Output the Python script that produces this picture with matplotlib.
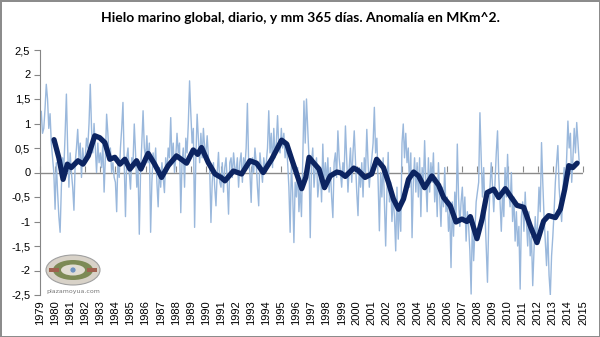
import numpy as np
import matplotlib.pyplot as plt
from matplotlib.patches import Ellipse, Rectangle

# daily anomaly (read roughly monthly off the picture), one list per year
years = list(range(1979, 2015))
daily = [
    [1.0, 1.25, 0.8, 0.9, 1.3, 1.8, 1.5, 0.9, 1.2, 0.6, 0.3, 0.0],
    [-0.75, 0.2, -0.4, -0.9, -1.22, -0.3, 0.3, 0.1, 0.8, 1.6, 0.5, -0.3],
    [0.4, 0.0, -0.3, -0.77, 0.2, 0.5, 0.88, 0.3, 0.6, -0.1, 0.5, 0.2],
    [0.3, 0.7, 0.5, 1.0, 1.8, 0.9, 0.4, 1.0, 0.5, 0.0, 0.6, 0.2],
    [0.4, 0.1, 0.6, -0.4, 0.3, 1.19, 0.8, 0.3, 0.5, 0.0, 0.2, -0.1],
    [-0.2, -0.8, 0.3, -0.1, 0.5, 0.9, 1.43, 0.2, -0.9, 0.3, 0.5, 0.0],
    [-0.34, 0.3, 0.2, 0.99, 0.4, -0.3, 0.1, -1.26, 0.0, 0.6, 1.26, 0.5],
    [0.3, 0.75, 0.2, 0.6, -1.22, -0.2, 0.4, 0.1, 0.5, -0.2, -0.7, 0.1],
    [-0.3, 0.2, -0.1, -0.41, 0.3, 0.0, 0.5, 0.3, 1.12, 0.2, 0.6, 0.0],
    [0.3, 0.8, 0.4, 0.6, -0.82, 0.2, 0.5, -0.3, 0.7, 0.4, 1.0, 1.87],
    [1.2, 0.6, 0.9, -1.12, 0.3, 1.19, 0.7, 0.2, 0.8, 0.3, 0.9, 0.5],
    [0.4, 0.75, 0.3, 0.1, -1.02, -0.2, 0.2, -0.3, -0.68, 0.0, 0.41, -0.2],
    [-0.3, 0.2, -0.4, 0.1, 0.3, -0.2, -0.85, 0.2, 0.3, -0.1, 0.4, 0.1],
    [0.0, 0.3, -0.3, 0.2, 0.4, -0.2, 0.3, 0.1, 0.5, 1.41, 0.2, 0.0],
    [-0.61, 0.3, 0.0, 0.5, 0.2, -0.3, -0.68, 0.4, 0.1, -0.2, 0.3, 0.1],
    [0.2, 0.5, 1.26, 0.4, 0.8, 0.1, 0.9, 0.3, 0.6, 1.16, 0.5, 0.4],
    [0.9, 0.5, 0.8, 0.3, 0.6, 0.2, -0.3, -1.22, 0.2, -0.4, -1.43, -0.2],
    [-0.5, 0.1, -0.8, -0.3, -0.9, 0.2, 1.46, 0.6, 1.5, 0.9, 0.3, -1.33],
    [0.2, 0.5, -0.3, 0.1, 0.3, -0.5, -0.2, 0.1, -0.6, 0.58, -0.3, 0.2],
    [-0.2, 0.3, -0.4, 0.1, -0.5, -0.92, 0.2, 0.4, -0.1, 0.85, 0.3, 0.0],
    [-0.3, 0.2, 0.0, 0.95, 0.3, -0.4, 0.1, 0.5, -0.2, 0.4, 0.85, 0.2],
    [-0.4, -0.88, 0.1, -0.3, 0.2, -0.5, 0.3, 0.0, 0.88, 0.2, -0.3, 0.1],
    [0.3, 0.6, 1.33, 0.4, 0.7, -0.2, -1.19, 0.0, -0.5, 0.3, -0.6, -1.5],
    [-0.4, 0.41, -0.6, -0.2, -1.0, -0.5, -0.9, -1.6, -0.3, -1.36, -0.6, -1.2],
    [0.6, 0.99, 0.3, 0.8, 0.2, 0.5, -0.3, 0.4, -1.33, -0.2, 0.3, -0.4],
    [0.2, -0.5, 0.3, -0.9, 0.1, -0.3, 0.65, -0.2, -0.8, 0.3, -0.4, 0.2],
    [-0.2, 0.4, -0.6, -0.1, -0.9, 0.2, -0.5, -1.1, -0.3, -0.7, 0.1, -0.8],
    [-0.5, -1.2, -0.8, -1.94, -0.6, -1.3, -0.4, -0.9, 0.58, -0.5, -1.1, -0.6],
    [-0.3, -1.0, -0.5, -1.4, -0.8, -1.1, -1.6, -2.48, -0.9, -1.8, -1.2, -0.6],
    [-0.4, -0.2, 1.22, 0.3, -0.5, 0.1, -0.8, -1.5, -2.24, -1.0, -0.3, 0.2],
    [-0.3, -0.8, -0.2, 0.4, 0.85, -0.1, -0.6, -1.2, -0.4, -0.9, 0.1, -0.5],
    [0.37, -0.4, -0.7, 0.0, -1.0, -0.5, -1.4, -0.8, -1.5, -1.1, -2.38, -0.9],
    [-0.6, -1.2, -0.4, -1.0, -1.5, -0.8, -1.7, -1.3, -2.31, -1.6, -0.9, -1.4],
    [-1.0, -0.3, -0.8, 0.61, -0.2, -0.9, -1.4, -1.9, -1.2, -2.1, -2.5, -1.7],
    [-1.3, -0.8, -0.2, 0.2, 0.55, -0.3, -0.7, -1.0, -0.4, 0.1, -0.3, 0.3],
    [1.05, 0.5, 0.8, -0.2, 0.3, 0.9, 0.4, 1.02, 0.6, 0.2],
]

# 365-day running mean
mean_t = [1979.93, 1980.25, 1980.53, 1980.81, 1981.07, 1981.52, 1981.85, 1982.2, 1982.63, 1982.96,
          1983.3, 1983.63, 1983.96, 1984.3, 1984.63, 1984.96, 1985.4, 1985.69, 1986.17, 1986.6,
          1987.06, 1987.5, 1988.05, 1988.72, 1989.16, 1989.45, 1989.71, 1990.16, 1990.6, 1991.0,
          1991.26, 1991.82, 1992.37, 1992.92, 1993.36, 1993.8, 1994.36, 1995.02, 1995.36, 1995.69,
          1996.02, 1996.35, 1996.62, 1996.84, 1997.13, 1997.5, 1997.86, 1998.24, 1998.68, 1998.95,
          1999.24, 1999.8, 2000.1, 2000.55, 2000.99, 2001.32, 2001.77, 2002.1, 2002.43, 2002.77,
          2003.1, 2003.43, 2003.77, 2004.1, 2004.5, 2004.98, 2005.43, 2005.76, 2006.2, 2006.58,
          2006.97, 2007.3, 2007.53, 2007.97, 2008.31, 2008.64, 2009.08, 2009.41, 2009.85, 2010.18,
          2010.62, 2011.07, 2011.5, 2011.95, 2012.39, 2012.72, 2013.17, 2013.5, 2013.79, 2014.06,
          2014.32, 2014.61]
mean_v = [0.67, 0.3, -0.14, 0.17, 0.1, 0.24, 0.17, 0.34, 0.75, 0.71,
          0.61, 0.27, 0.31, 0.17, 0.27, 0.07, 0.24, 0.07, 0.39, 0.17,
          -0.1, 0.14, 0.34, 0.19, 0.46, 0.37, 0.51, 0.2, -0.03, -0.1,
          -0.17, 0.03, -0.03, 0.24, 0.19, 0.0, 0.27, 0.66, 0.58, 0.27,
          -0.03, -0.33, -0.1, 0.31, 0.2, 0.07, -0.31, -0.07, 0.01, -0.01,
          -0.08, 0.09, 0.04, -0.1, -0.03, 0.27, 0.1, -0.2, -0.54, -0.75,
          -0.54, -0.14, 0.01, -0.07, -0.31, -0.07, -0.26, -0.51, -0.68, -1.01,
          -0.95, -1.0, -0.9, -1.35, -0.95, -0.41, -0.34, -0.51, -0.33, -0.48,
          -0.67, -0.71, -1.09, -1.43, -0.99, -0.88, -0.92, -0.75, -0.34, 0.14,
          0.1, 0.19]

yticks = [-2.5, -2, -1.5, -1, -0.5, 0, 0.5, 1, 1.5, 2, 2.5]
ytick_labels = [str(v).replace('.', ',') if v != int(v) else str(int(v)) for v in yticks]
xticks = list(range(1979, 2016))

t = []
v = []
for y, vals in zip(years, daily):
    for m, val in enumerate(vals):
        t.append(y + m / 12.0)
        v.append(val)

fig = plt.figure(figsize=(6, 3.37), dpi=100)
fig.patch.set_edgecolor('#8c8c8c')
fig.patch.set_linewidth(2)
ax = fig.add_axes([40/600, 1 - 295/337, 543/600, 245/337])

ax.axhline(0, color='#8a8a8a', lw=1.0, zorder=1)
ax.plot(t, v, color='#9ab8dc', lw=1.0, zorder=2)
ax.plot(mean_t, mean_v, color='#0c2461', lw=3.8, solid_capstyle='round',
        solid_joinstyle='round', zorder=3)

ax.set_xlim(1979, 2015)
ax.set_ylim(-2.5, 2.5)
ax.set_yticks(yticks)
ax.set_yticklabels(ytick_labels, fontsize=8, family='Liberation Sans')
ax.set_xticks(xticks)
ax.set_xticklabels([str(x) for x in xticks], rotation=90, fontsize=8, family='Liberation Sans')
ax.tick_params(axis='x', length=0, pad=4)
ax.tick_params(axis='y', length=4, color='#868686', direction='out', pad=3)
for s in ['top', 'right', 'bottom']:
    ax.spines[s].set_visible(False)
ax.spines['left'].set_color('#868686')

# tick marks hanging under the zero line, as in the Excel chart
zero = ax.secondary_xaxis(0.5)
zero.set_xticks(xticks)
zero.set_xticklabels([])
zero.tick_params(length=4, color='#8a8a8a', direction='out')
for sp in zero.spines.values():
    sp.set_visible(False)

fig.text(0.5, 1 - 18/337, 'Hielo marino global, diario, y mm 365 días. Anomalía en MKm^2.',
         ha='center', va='center', fontsize=10, fontweight='bold', family='Lato')

# small plazamoyua logo
cx, cy = 73/600, 1 - 270/337
fig.patches.append(Ellipse((cx, cy), 54/600, 30/337, transform=fig.transFigure,
                           facecolor='#d8d2c8', edgecolor='#a0a0a0', lw=0.8))
fig.patches.append(Ellipse((cx, cy), 40/600, 20/337, transform=fig.transFigure,
                           facecolor='#7d8a55', edgecolor='none'))
fig.patches.append(Ellipse((cx, cy), 24/600, 11/337, transform=fig.transFigure,
                           facecolor='#e2ddd2', edgecolor='none'))
fig.patches.append(Rectangle((cx - 24/600, cy - 2/337), 10/600, 4/337, transform=fig.transFigure,
                             facecolor='#a0614e', edgecolor='none'))
fig.patches.append(Rectangle((cx + 14/600, cy - 2/337), 10/600, 4/337, transform=fig.transFigure,
                             facecolor='#a0614e', edgecolor='none'))
fig.patches.append(Ellipse((cx, cy), 6/600, 6/337, transform=fig.transFigure,
                           facecolor='#6f93c0', edgecolor='#dddddd', lw=0.5))
fig.text(cx, 1 - 292/337, 'plazamoyua.com', ha='center', va='center', fontsize=4.5, color='#777777')

fig.savefig('out.png', dpi=100, edgecolor=fig.get_edgecolor())
